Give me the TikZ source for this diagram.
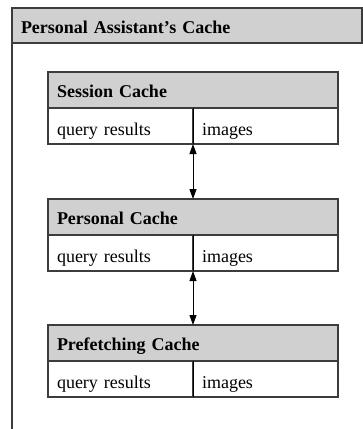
\documentclass[tikz,border=0pt]{standalone}
\usepackage{fontspec}
\setmainfont{Liberation Serif}
\usetikzlibrary{arrows.meta}
\definecolor{headgray}{HTML}{D0D0D0}
\definecolor{edgegray}{HTML}{3C3C3C}

\begin{document}
\begin{tikzpicture}[x=1pt, y=-1pt,
    box/.style = {draw=edgegray, line width=1.2pt, anchor=north west, outer sep=0pt, inner xsep=9pt, inner ysep=0pt, align=left, text depth=0pt},
    title/.style = {box, fill=headgray, minimum width=350pt, minimum height=35pt, text width=332pt, text height=16pt, font=\fontsize{18}{20}\selectfont\bfseries},
    head/.style = {box, fill=headgray, minimum width=290pt, minimum height=36pt, text width=272pt, text height=15pt, font=\fontsize{18}{20}\selectfont\bfseries},
    cell/.style = {box, fill=white, minimum width=145pt, minimum height=36pt, text width=127pt, text height=18pt, font=\fontsize{18}{20}\selectfont},
    link/.style = {{Triangle[length=10pt,width=7pt]}-{Triangle[length=10pt,width=7pt]}, line width=1pt}]
    \useasboundingbox (0,0) rectangle (363,429);

    % Outer cache
    \node[title] (PA) at (12,8) {Personal Assistant's Cache};
    \draw[draw=edgegray, line width=1.2pt] (PA.south west) -- (12,432);

    % Session cache
    \node[head] (SH) at (48,72) {Session Cache};
    \node[cell] (SQ) at (SH.south west) {query results};
    \node[cell] (SI) at (SQ.north east) {images};
    \draw[line width=1pt] (SQ.north east) -- (SQ.south east);

    % Personal cache
    \node[head] (PH) at (48,199) {Personal Cache};
    \node[cell] (PQ) at (PH.south west) {query results};
    \node[cell] (PI) at (PQ.north east) {images};
    \draw[line width=1pt] (PQ.north east) -- (PQ.south east);

    % Prefetching cache
    \node[head] (FH) at (48,325) {Prefetching Cache};
    \node[cell] (FQ) at (FH.south west) {query results};
    \node[cell] (FI) at (FQ.north east) {images};
    \draw[line width=1pt] (FQ.north east) -- (FQ.south east);

    \draw[link] (SQ.south east) -- (PH.north);
    \draw[link] (PQ.south east) -- (FH.north);
\end{tikzpicture}
\end{document}
